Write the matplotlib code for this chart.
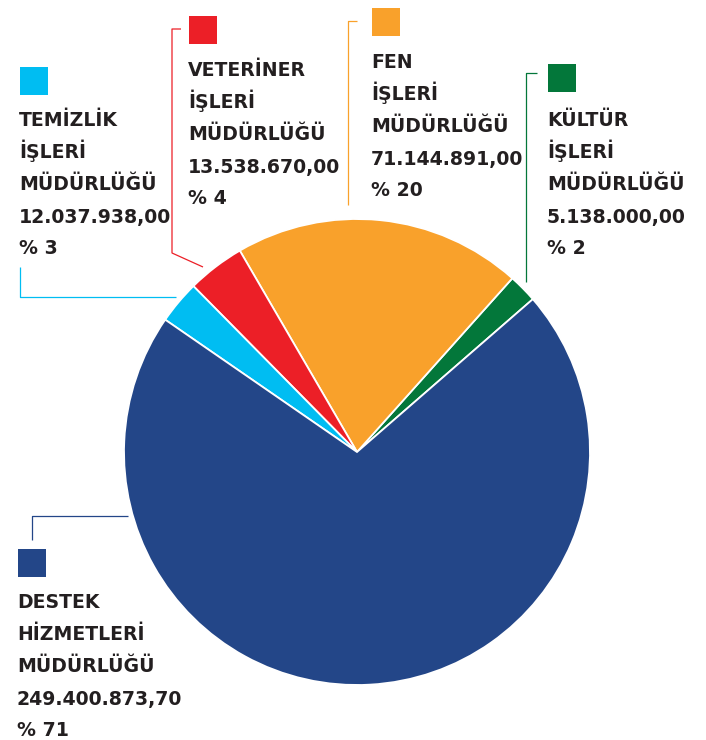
import matplotlib.pyplot as plt

# departments, amounts (TL) and the printed shares
names = [
    ["KÜLTÜR", "İŞLERİ", "MÜDÜRLÜĞÜ"],
    ["FEN", "İŞLERİ", "MÜDÜRLÜĞÜ"],
    ["VETERİNER", "İŞLERİ", "MÜDÜRLÜĞÜ"],
    ["TEMİZLİK", "İŞLERİ", "MÜDÜRLÜĞÜ"],
    ["DESTEK", "HİZMETLERİ", "MÜDÜRLÜĞÜ"],
]
amounts = [5138000.00, 71144891.00, 13538670.00, 12037938.00, 249400873.70]
shares = [2, 20, 4, 3, 71]
colors = ["#03773a", "#f9a12b", "#ec1f27", "#00bdf2", "#234688"]

W, H = 706, 740


def tr_money(v):
    s = f"{v:,.2f}"
    return s.replace(",", "X").replace(".", ",").replace("X", ".")


fig = plt.figure(figsize=(W / 100, H / 100), dpi=100)
ax = fig.add_axes([0, 0, 1, 1])
ax.axis("off")

# pie in pixel space (y measured from the top)
cx, cy, r = 357, 452, 233
ax.pie(shares, colors=colors, startangle=41, counterclock=True,
       center=(cx, H - cy), radius=r,
       wedgeprops=dict(edgecolor="white", linewidth=1.3))
ax.set_xlim(0, W)
ax.set_ylim(0, H)
ax.set_aspect("equal")

# label blocks: square top-left, first cap-top y, leader path
square_pos = [(548, 64), (372, 8), (189, 16), (20, 67), (18, 549)]
text_top = [113, 55, 63, 113, 595]
leaders = [
    [(537, 73), (526, 73), (526, 282)],
    [(357, 21), (348, 21), (348, 205)],
    [(181, 29), (172, 29), (172, 253), (203, 267)],
    [(20, 267), (20, 297), (176, 297)],
    [(32, 540), (32, 516), (128, 516)],
]

sq = 28
line_gap = 32
font = dict(family=["DejaVu Sans"], fontweight="bold",
            fontsize=13.6, color="#231f20")

for i in range(len(names)):
    x0, y0 = square_pos[i]
    ax.add_patch(plt.Rectangle((x0, H - y0 - sq), sq, sq, color=colors[i], lw=0))
    lines = names[i] + [tr_money(amounts[i]), f"% {shares[i]}"]
    for j, line in enumerate(lines):
        base = text_top[i] + 13.5 + j * line_gap
        ax.text(x0 - 1, H - base, line, ha="left", va="baseline", **font)
    xs = [p[0] for p in leaders[i]]
    ys = [H - p[1] for p in leaders[i]]
    ax.plot(xs, ys, color=colors[i], lw=0.9, solid_capstyle="butt")

fig.savefig("out.png", dpi=100)
